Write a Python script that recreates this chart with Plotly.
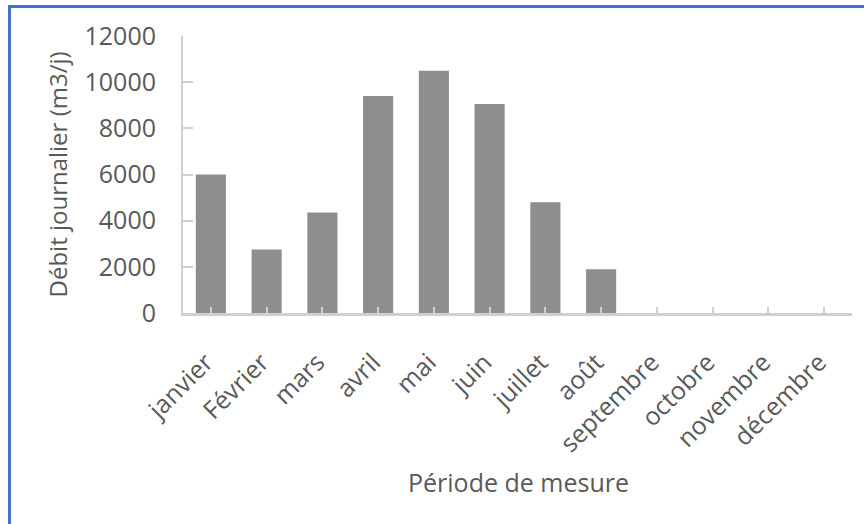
import plotly.graph_objects as go

months = ["janvier", "Février", "mars", "avril", "mai", "juin", "juillet",
          "août", "septembre", "octobre", "novembre", "décembre"]
debit = [6000, 2750, 4350, 9400, 10500, 9050, 4800, 1900, 0, 0, 0, 0]
y_ticks = [0, 2000, 4000, 6000, 8000, 10000, 12000]

FONT = "Open Sans"
TXT = "#595959"
AX = "#D0D0D0"

L, R, T, B = 183, 12, 36, 211
W, H = 864, 524
pw, ph = W - L - R, H - T - B

def px(x):
    return (x - L) / pw

def py(y):
    return (H - B - y) / ph

fig = go.Figure()
fig.add_trace(go.Bar(
    x=list(range(len(months))), y=debit,
    marker=dict(color="#8E8E8E", line=dict(width=0)),
    width=0.54,
))

tickvals = list(range(len(months))) + [len(months) - 0.5]
ticktext = months + [""]

fig.update_layout(
    width=W, height=H,
    margin=dict(l=L, r=R, t=T, b=B),
    paper_bgcolor="white", plot_bgcolor="white",
    showlegend=False,
    font=dict(family=FONT, color=TXT, size=24),
    xaxis=dict(
        range=[-0.5, len(months) - 0.5],
        tickmode="array", tickvals=tickvals, ticktext=ticktext,
        tickangle=-45, ticks="inside", ticklen=6, tickwidth=2, tickcolor=AX,
        showline=True, linecolor=AX, linewidth=2.5,
        showgrid=False, zeroline=False,
        tickfont=dict(family=FONT, size=25, color=TXT),
        ticklabelstandoff=22,
        ticklabelshift=-5,
        fixedrange=True,
    ),
    yaxis=dict(
        range=[0, 12000],
        tickmode="array", tickvals=y_ticks, ticktext=[str(v) for v in y_ticks],
        ticks="inside", ticklen=10, tickwidth=2, tickcolor=AX,
        showline=True, linecolor=AX, linewidth=2,
        showgrid=False, zeroline=False,
        tickfont=dict(family=FONT, size=25, color=TXT),
        ticklabelstandoff=20,
        fixedrange=True,
    ),
    annotations=[
        dict(text="Débit journalier (m3/j)", xref="paper", yref="paper",
             x=px(57), y=py(174.5), textangle=-90, showarrow=False,
             xanchor="center", yanchor="middle",
             font=dict(family=FONT, size=24, color=TXT)),
        dict(text="Période de mesure", xref="paper", yref="paper",
             x=px(518), y=py(482), showarrow=False,
             xanchor="center", yanchor="middle",
             font=dict(family=FONT, size=25, color=TXT)),
    ],
    shapes=[
        dict(type="line", xref="paper", yref="paper",
             x0=px(8), x1=px(872), y0=py(6.5), y1=py(6.5),
             line=dict(color="#4472C4", width=3)),
        dict(type="line", xref="paper", yref="paper",
             x0=px(9.5), x1=px(9.5), y0=py(5), y1=py(532),
             line=dict(color="#4472C4", width=3)),
    ],
)

fig.write_html(
    "out.html",
    config={"displayModeBar": False},
    post_script="document.body.style.margin='0';document.body.style.overflow='hidden';",
)
